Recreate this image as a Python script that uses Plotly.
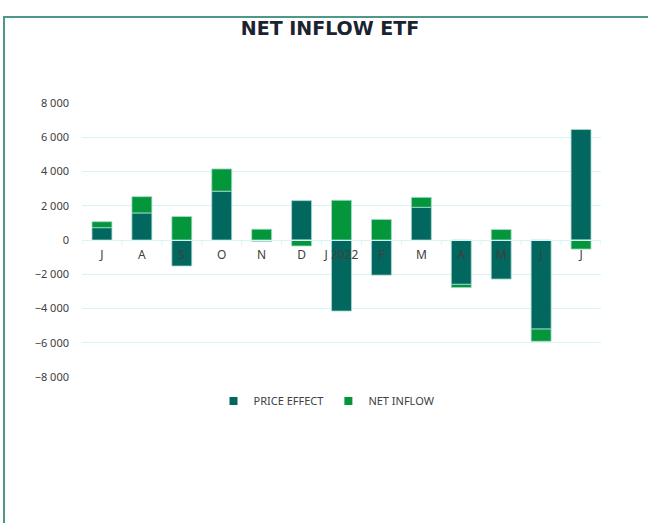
import plotly.graph_objects as go

# Monthly data, Jul 2021 - Jul 2022
months = ["J", "A", "S", "O", "N", "D", "J 2022", "F", "M", "A", "M", "J", "J"]
price_effect = [720, 1580, -1520, 2850, -80, 2300, -4150, -2050, 1910, -2590, -2280, -5200, 6450]
net_inflow = [350, 950, 1370, 1300, 630, -350, 2320, 1200, 580, -190, 610, -715, -530]

DARK = "#02675E"
GREEN = "#04963A"
GRID = "#D6F6F3"

W, H = 648, 523
L, R, T, B = 82, 47, 103, 146
pw, ph = W - L - R, H - T - B

x = list(range(len(months)))

fig = go.Figure()
fig.add_trace(go.Bar(x=x, y=price_effect, name="PRICE EFFECT", marker_color=DARK,
                     marker_line=dict(color="#A8DAD2", width=0.8), width=0.5, showlegend=False))
fig.add_trace(go.Bar(x=x, y=net_inflow, name="NET INFLOW", marker_color=GREEN,
                     marker_line=dict(color="#A8DAD2", width=0.8), width=0.5, showlegend=False))
# legend entries with small square swatches
for name, col in [("PRICE EFFECT", DARK), ("NET INFLOW", GREEN)]:
    fig.add_trace(go.Scatter(x=[None], y=[None], mode="markers", name=name,
                             marker=dict(symbol="square", size=8, color=col)))


def px_x(p):
    return (p - L) / pw


def px_y(p):
    return (H - B - p) / ph


# outer frame
fig.add_shape(type="rect", xref="paper", yref="paper",
              x0=px_x(4), x1=px_x(700), y0=px_y(600), y1=px_y(17),
              line=dict(color="#4E978A", width=2), layer="below")

fig.update_layout(
    width=W, height=H,
    barmode="relative",
    margin=dict(l=L, r=R, t=T, b=B),
    paper_bgcolor="white", plot_bgcolor="white",
    separators=". ",
    font=dict(family="Noto Sans", size=11, color="#404040"),
    title=dict(text="<b>NET INFLOW ETF</b>", x=330 / W, xanchor="center", y=1 - 28 / H, yanchor="middle",
               font=dict(family="DejaVu Sans", size=19, color="#1B2230")),
    legend=dict(orientation="h", x=px_x(327), xanchor="center", y=px_y(401), yanchor="middle",
                font=dict(size=11, color="#404040"), itemwidth=30, traceorder="normal"),
    showlegend=True,
)
fig.update_yaxes(range=[-8000, 8000], tickvals=list(range(-8000, 8001, 2000)), tickformat=",d",
                 showgrid=True, gridcolor=GRID, gridwidth=1, zeroline=False, showline=False,
                 ticklabelstandoff=12)
fig.update_xaxes(tickvals=x, ticktext=months, range=[-0.5, len(months) - 0.5],
                 anchor="free", position=0.5, showline=True, linecolor=GRID, linewidth=1,
                 showgrid=False, zeroline=False, ticks="", ticklabelstandoff=4,
                 tickfont=dict(size=12))

# boundary ticks on the category axis
for i in range(len(months) + 1):
    fig.add_shape(type="line", xref="x", yref="paper", x0=i - 0.5, x1=i - 0.5,
                  y0=0.5, y1=0.5 - 5 / ph, line=dict(color=GRID, width=1), layer="below")

fig.write_html("out.html", config={"displayModeBar": False},
               post_script="document.body.style.margin='0';")
